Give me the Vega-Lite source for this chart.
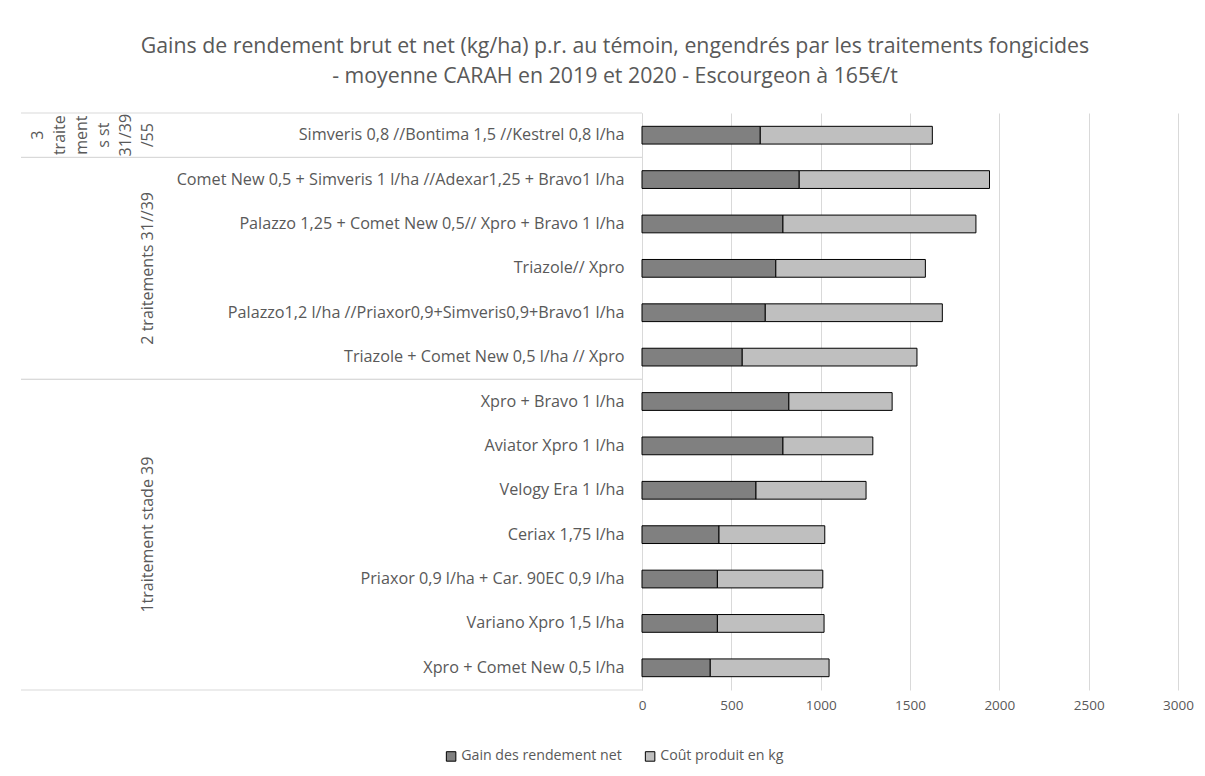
{
  "$schema": "https://vega.github.io/schema/vega-lite/v6.json",
  "padding": {"left": 20, "top": 36, "right": 0, "bottom": 0},
  "background": "white",
  "title": {
    "text": ["Gains de rendement brut et net (kg/ha) p.r. au témoin, engendrés par les traitements fongicides", "- moyenne CARAH en 2019 et 2020 - Escourgeon à 165€/t"],
    "anchor": "middle", "fontSize": 21.3, "font": "Open Sans", "fontWeight": "normal", "color": "#595959", "lineHeight": 30, "offset": 25, "dx": 8
  },
  "datasets": {
    "rows": [
      {"product": "Simveris 0,8 //Bontima 1,5 //Kestrel 0,8 l/ha", "group": "3\ntraite\nment\ns st\n31/39\n/55"},
      {"product": "Comet New 0,5 + Simveris 1 l/ha //Adexar1,25 + Bravo1 l/ha", "group": "2 traitements 31//39"},
      {"product": "Palazzo 1,25 + Comet New 0,5// Xpro + Bravo 1 l/ha", "group": "2 traitements 31//39"},
      {"product": "Triazole// Xpro", "group": "2 traitements 31//39"},
      {"product": "Palazzo1,2 l/ha //Priaxor0,9+Simveris0,9+Bravo1 l/ha", "group": "2 traitements 31//39"},
      {"product": "Triazole + Comet New 0,5 l/ha // Xpro", "group": "2 traitements 31//39"},
      {"product": "Xpro + Bravo 1 l/ha", "group": "1traitement stade 39"},
      {"product": "Aviator Xpro 1 l/ha", "group": "1traitement stade 39"},
      {"product": "Velogy Era 1 l/ha", "group": "1traitement stade 39"},
      {"product": "Ceriax 1,75 l/ha", "group": "1traitement stade 39"},
      {"product": "Priaxor 0,9 l/ha + Car. 90EC 0,9 l/ha", "group": "1traitement stade 39"},
      {"product": "Variano Xpro 1,5 l/ha", "group": "1traitement stade 39"},
      {"product": "Xpro + Comet New 0,5 l/ha", "group": "1traitement stade 39"}
    ],
    "bars": [
      {"product": "Simveris 0,8 //Bontima 1,5 //Kestrel 0,8 l/ha", "serie": "Gain des rendement net", "value": 662},
      {"product": "Simveris 0,8 //Bontima 1,5 //Kestrel 0,8 l/ha", "serie": "Coût produit en kg", "value": 963},
      {"product": "Comet New 0,5 + Simveris 1 l/ha //Adexar1,25 + Bravo1 l/ha", "serie": "Gain des rendement net", "value": 880},
      {"product": "Comet New 0,5 + Simveris 1 l/ha //Adexar1,25 + Bravo1 l/ha", "serie": "Coût produit en kg", "value": 1065},
      {"product": "Palazzo 1,25 + Comet New 0,5// Xpro + Bravo 1 l/ha", "serie": "Gain des rendement net", "value": 789},
      {"product": "Palazzo 1,25 + Comet New 0,5// Xpro + Bravo 1 l/ha", "serie": "Coût produit en kg", "value": 1080},
      {"product": "Triazole// Xpro", "serie": "Gain des rendement net", "value": 749},
      {"product": "Triazole// Xpro", "serie": "Coût produit en kg", "value": 837},
      {"product": "Palazzo1,2 l/ha //Priaxor0,9+Simveris0,9+Bravo1 l/ha", "serie": "Gain des rendement net", "value": 690},
      {"product": "Palazzo1,2 l/ha //Priaxor0,9+Simveris0,9+Bravo1 l/ha", "serie": "Coût produit en kg", "value": 991},
      {"product": "Triazole + Comet New 0,5 l/ha // Xpro", "serie": "Gain des rendement net", "value": 561},
      {"product": "Triazole + Comet New 0,5 l/ha // Xpro", "serie": "Coût produit en kg", "value": 978},
      {"product": "Xpro + Bravo 1 l/ha", "serie": "Gain des rendement net", "value": 822},
      {"product": "Xpro + Bravo 1 l/ha", "serie": "Coût produit en kg", "value": 578},
      {"product": "Aviator Xpro 1 l/ha", "serie": "Gain des rendement net", "value": 789},
      {"product": "Aviator Xpro 1 l/ha", "serie": "Coût produit en kg", "value": 503},
      {"product": "Velogy Era 1 l/ha", "serie": "Gain des rendement net", "value": 638},
      {"product": "Velogy Era 1 l/ha", "serie": "Coût produit en kg", "value": 616},
      {"product": "Ceriax 1,75 l/ha", "serie": "Gain des rendement net", "value": 431},
      {"product": "Ceriax 1,75 l/ha", "serie": "Coût produit en kg", "value": 592},
      {"product": "Priaxor 0,9 l/ha + Car. 90EC 0,9 l/ha", "serie": "Gain des rendement net", "value": 422},
      {"product": "Priaxor 0,9 l/ha + Car. 90EC 0,9 l/ha", "serie": "Coût produit en kg", "value": 590},
      {"product": "Variano Xpro 1,5 l/ha", "serie": "Gain des rendement net", "value": 422},
      {"product": "Variano Xpro 1,5 l/ha", "serie": "Coût produit en kg", "value": 597},
      {"product": "Xpro + Comet New 0,5 l/ha", "serie": "Gain des rendement net", "value": 382},
      {"product": "Xpro + Comet New 0,5 l/ha", "serie": "Coût produit en kg", "value": 665}
    ]
  },
  "bounds": "flush",
  "spacing": 0,
  "hconcat": [
    {
      "width": 270,
      "height": 577,
      "data": {"name": "rows"},
      "transform": [
        {"window": [{"op": "row_number", "as": "rn"}], "groupby": ["group"]},
        {"joinaggregate": [{"op": "count", "as": "cnt"}], "groupby": ["group"]}
      ],
      "layer": [
        {
          "mark": {"type": "rule", "color": "#d9d9d9", "strokeWidth": 1},
          "encoding": {
            "y": {"field": "product", "type": "nominal", "sort": null, "bandPosition": 0, "axis": null, "scale": {"paddingInner": 0, "paddingOuter": 0}},
            "strokeOpacity": {"condition": {"test": "datum.rn == 1", "value": 1}, "value": 0}
          }
        },
        {
          "mark": {"type": "rule", "color": "#d9d9d9", "strokeWidth": 1},
          "encoding": {
            "y": {"field": "product", "type": "nominal", "sort": null, "bandPosition": 1, "axis": null},
            "strokeOpacity": {"condition": {"test": "datum.rn == datum.cnt", "value": 1}, "value": 0}
          }
        },
        {
          "mark": {"type": "text", "angle": 270, "align": "center", "baseline": "bottom", "fontSize": 16, "font": "Open Sans", "color": "#595959"},
          "encoding": {
            "y": {"field": "product", "type": "nominal", "sort": null, "axis": null},
            "text": {"condition": {"test": "datum.cnt > 1 && datum.rn == ceil(datum.cnt / 2)", "field": "group", "type": "nominal"}, "value": ""}
          }
        },
        {
          "mark": {"type": "text", "angle": 270, "align": "center", "baseline": "bottom", "lineBreak": "\n", "lineHeight": 22, "dy": -110, "fontSize": 16, "font": "Open Sans", "color": "#595959"},
          "encoding": {
            "y": {"field": "product", "type": "nominal", "sort": null, "axis": null},
            "text": {"condition": {"test": "datum.cnt == 1", "field": "group", "type": "nominal"}, "value": ""}
          }
        }
      ]
    },
    {
      "width": 351,
      "height": 577,
      "data": {"name": "rows"},
      "transform": [
        {"window": [{"op": "row_number", "as": "rn"}], "groupby": ["group"]},
        {"joinaggregate": [{"op": "count", "as": "cnt"}], "groupby": ["group"]}
      ],
      "layer": [
        {
          "mark": {"type": "rule", "color": "#d9d9d9", "strokeWidth": 1},
          "encoding": {
            "y": {"field": "product", "type": "nominal", "sort": null, "bandPosition": 0, "axis": null, "scale": {"paddingInner": 0, "paddingOuter": 0}},
            "strokeOpacity": {"condition": {"test": "datum.rn == 1", "value": 1}, "value": 0}
          }
        },
        {
          "mark": {"type": "rule", "color": "#d9d9d9", "strokeWidth": 1},
          "encoding": {
            "y": {"field": "product", "type": "nominal", "sort": null, "bandPosition": 1, "axis": null},
            "strokeOpacity": {"condition": {"test": "datum.rn == datum.cnt", "value": 1}, "value": 0}
          }
        }
      ]
    },
    {
      "width": 536,
      "height": 577,
      "data": {"name": "bars"},
      "mark": {"type": "bar", "stroke": "#000000", "strokeWidth": 1},
      "encoding": {
        "y": {
          "field": "product", "type": "nominal", "sort": null,
          "scale": {"paddingInner": 0.6, "paddingOuter": 0.3},
          "axis": {"title": null, "ticks": false, "domain": true, "domainColor": "#d9d9d9", "labelFontSize": 16.2, "labelFont": "Open Sans", "labelColor": "#595959", "labelPadding": 18, "labelLimit": 600}
        },
        "x": {
          "field": "value", "type": "quantitative", "stack": "zero",
          "scale": {"domain": [0, 3000], "nice": false},
          "axis": {"title": null, "values": [0, 500, 1000, 1500, 2000, 2500, 3000], "format": "d", "labelFlush": false, "domain": false, "ticks": false, "gridColor": "#d9d9d9", "labelFontSize": 13.5, "labelFont": "Open Sans", "labelColor": "#595959", "labelPadding": 8}
        },
        "order": {"field": "serie", "type": "nominal", "sort": "descending"},
        "color": {
          "field": "serie", "type": "nominal",
          "sort": ["Gain des rendement net", "Coût produit en kg"],
          "scale": {"domain": ["Gain des rendement net", "Coût produit en kg"], "range": ["#808080", "#bfbfbf"]},
          "legend": {"title": null, "orient": "none", "legendX": 423, "legendY": 636, "direction": "horizontal", "symbolType": "square", "symbolSize": 90, "symbolStrokeColor": "#000000", "symbolStrokeWidth": 1, "labelFontSize": 14.2, "labelFont": "Open Sans", "labelColor": "#595959", "labelLimit": 400, "columnPadding": 21, "labelOffset": 3}
        }
      }
    }
  ],
  "config": {"view": {"stroke": null}, "font": "Open Sans"}
}
